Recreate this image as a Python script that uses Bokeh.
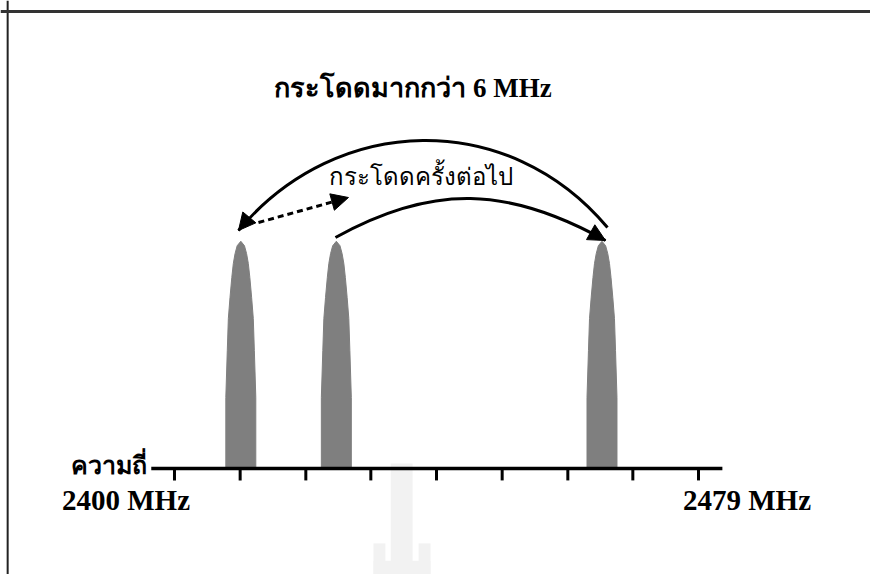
from bokeh.plotting import figure
from bokeh.models import Arrow, NormalHead, Span, Range1d
from bokeh.core.properties import value
from bokeh.embed import file_html
from bokeh.resources import INLINE

# ---------------- data ----------------
# frequency axis (MHz)
axis_start_mhz = 2396.5
axis_end_mhz = 2482.6
tick_mhz = [2400, 2409.9, 2419.8, 2429.6, 2439.5, 2449.4, 2459.3, 2469.1, 2479]
end_labels = ["2400 MHz", "2479 MHz"]
axis_name = "ความถี่"

# hop channels (centre frequency, MHz) and relative amplitude
peak_center_mhz = [2410.0, 2424.4, 2464.45]
peak_height = [1.0, 1.0, 1.0]
# profile of one hop burst: relative amplitude vs. half-width (MHz)
profile_amp = [0.0, 0.316, 0.524, 0.667, 0.76, 0.849, 0.911, 0.955, 0.99, 1.01]
profile_halfwidth = [2.26, 2.26, 2.04, 1.88, 1.63, 1.36, 1.13, 0.87, 0.55, 0.0]

title_text = "กระโดดมากกว่า 6 MHz"
next_hop_text = "กระโดดครั้งต่อไป"

# ---------------- figure ----------------
W, H = 870, 574
p = figure(width=W, height=H,
           x_range=Range1d(2373.77, 2504.93), y_range=Range1d(-0.4711, 2.08),
           min_border=0, toolbar_location=None, output_backend="svg",
           x_axis_type=None, y_axis_type=None)
p.outline_line_color = None
p.grid.visible = False
p.background_fill_color = "white"
p.border_fill_color = "white"

# frame lines (left and top)
p.add_layout(Span(location=2374.85, dimension="height", line_color="#222222", line_width=2))
p.add_layout(Span(location=2.031, dimension="width", line_color="#333333", line_width=3))

# faint watermark
wm_left = [2432.6, 2430.0, 2436.8, 2430.0]
wm_right = [2435.9, 2431.8, 2438.6, 2438.6]
wm_top = [0.022, -0.333, -0.333, -0.41]
wm_bottom = [-0.5, -0.5, -0.5, -0.5]
p.quad(left=wm_left, right=wm_right, top=wm_top, bottom=wm_bottom,
       fill_color="#f2f2f2", line_color=None)

# hop bursts
xs, ys = [], []
for c, h in zip(peak_center_mhz, peak_height):
    left_x = [c - w for w in profile_halfwidth]
    right_x = [c + w for w in reversed(profile_halfwidth)]
    amp = [h * a for a in profile_amp]
    xs.append(left_x + right_x)
    ys.append(amp + list(reversed(amp)))
p.patches(xs=xs, ys=ys, fill_color="#7f7f7f", line_color="#7f7f7f", line_width=1)

# frequency axis line and ticks
p.segment(x0=[axis_start_mhz], y0=[0], x1=[axis_end_mhz], y1=[0],
          line_color="black", line_width=3.5)
p.segment(x0=tick_mhz, y0=[0] * len(tick_mhz), x1=tick_mhz, y1=[-0.053] * len(tick_mhz),
          line_color="black", line_width=3)

font = value("Liberation Serif")
# end labels
p.text(x=[2392.69, 2486.31], y=[-0.1956, -0.1956], text=end_labels, y_offset=-13,
       text_font=font, text_font_style="bold", text_font_size="29px",
       text_align="center", text_baseline="alphabetic", text_color="black")
# axis name
p.text(x=[2395.9], y=[-0.018], text=[axis_name], y_offset=-7,
       text_font=font, text_font_style="bold", text_font_size="25px",
       text_align="right", text_baseline="alphabetic", text_color="black")
# title
p.text(x=[2435.96], y=[1.649], text=[title_text], y_offset=-9,
       text_font=font, text_font_style="bold", text_font_size="27px",
       text_align="center", text_baseline="alphabetic", text_color="black")
# next-hop label
p.text(x=[2437.09], y=[1.249], text=[next_hop_text], y_offset=-10,
       text_font=font, text_font_style="normal", text_font_size="24px",
       text_align="center", text_baseline="alphabetic", text_color="black")

# big arc: from far channel back to first channel (> 6 MHz hop)
p.bezier(x0=[2465.28], y0=[1.0711], x1=[2409.65], y1=[1.0578],
         cx0=[2450.35], cy0=[1.5956], cx1=[2424.57], cy1=[1.5822],
         line_color="black", line_width=3)
p.add_layout(Arrow(end=NormalHead(size=17, fill_color="black", line_color="black"),
                   x_start=2410.61, y_start=1.092, x_end=2409.65, y_end=1.0578,
                   line_alpha=0))
# lower arc: next hop
p.bezier(x0=[2424.27], y0=[1.0267], x1=[2464.98], y1=[1.0133],
         cx0=[2438.90], cy0=[1.2667], cx1=[2450.35], cy1=[1.2533],
         line_color="black", line_width=3)
p.add_layout(Arrow(end=NormalHead(size=17, fill_color="black", line_color="black"),
                   x_start=2463.66, y_start=1.0351, x_end=2464.98, y_end=1.0133,
                   line_alpha=0))
# dashed small hop
p.add_layout(Arrow(end=NormalHead(size=17, fill_color="black", line_color="black"),
                   x_start=2412.66, y_start=1.0933, x_end=2426.23, y_end=1.2044,
                   line_color="black", line_width=3, line_dash="6 4"))

open("out.html", "w").write(file_html(p, INLINE))
